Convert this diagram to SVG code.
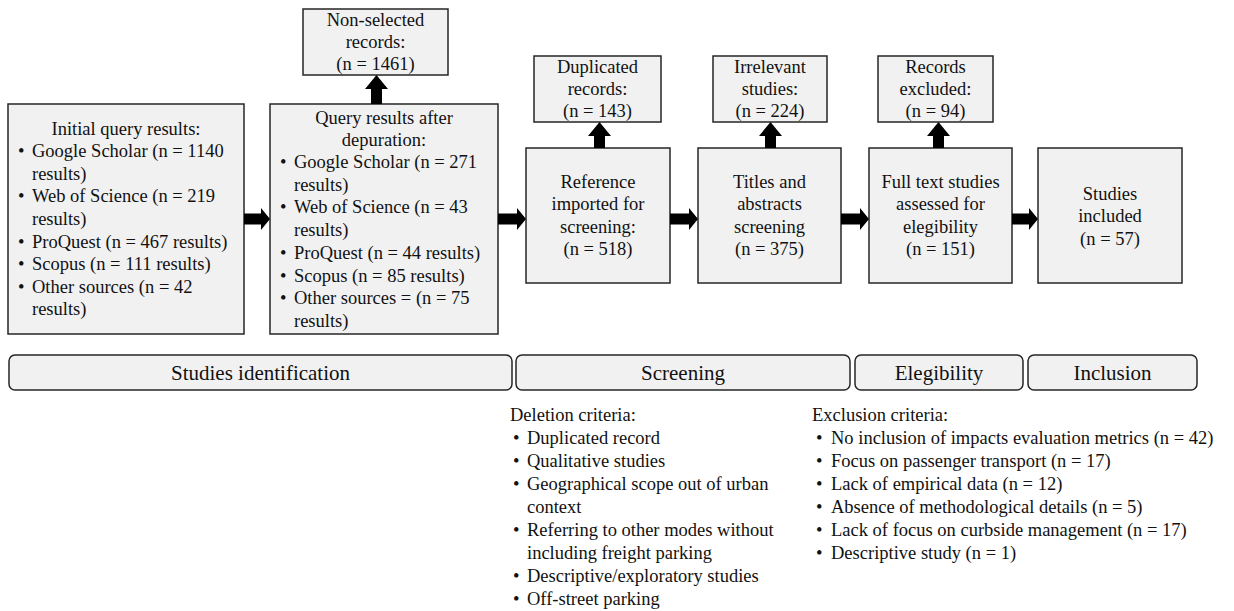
<svg xmlns="http://www.w3.org/2000/svg" width="1234" height="611" viewBox="0 0 1234 611">
<style>
.box{fill:#f1f1f1;stroke:#262626;stroke-width:1.5}
.band{fill:#f1f1f1;stroke:#262626;stroke-width:1.5}
text{font-family:"Liberation Serif","Times New Roman",serif;font-size:18.5px;fill:#111}
.c{text-anchor:middle}
.b{font-size:21px}
.arr{fill:#000}
</style>
<rect width="1234" height="611" fill="#fff"/>
<g id="initial">
<rect class="box" x="8" y="104" width="236" height="230"/>
<text class="c" x="126" y="135">Initial query results:</text>
<text x="18" y="157">•</text><text x="32" y="157">Google Scholar (n = 1140</text>
<text x="32" y="180">results)</text>
<text x="18" y="202">•</text><text x="32" y="202">Web of Science (n = 219</text>
<text x="32" y="225">results)</text>
<text x="18" y="248">•</text><text x="32" y="248">ProQuest (n = 467 results)</text>
<text x="18" y="270">•</text><text x="32" y="270">Scopus (n = 111 results)</text>
<text x="18" y="293">•</text><text x="32" y="293">Other sources (n = 42</text>
<text x="32" y="315">results)</text>
</g>
<g id="depuration">
<rect class="box" x="270" y="104" width="228" height="230"/>
<text class="c" x="384" y="124">Query results after</text>
<text class="c" x="384" y="146">depuration:</text>
<text x="280" y="168">•</text><text x="294" y="168">Google Scholar (n = 271</text>
<text x="294" y="191">results)</text>
<text x="280" y="213">•</text><text x="294" y="213">Web of Science (n = 43</text>
<text x="294" y="236">results)</text>
<text x="280" y="259">•</text><text x="294" y="259">ProQuest (n = 44 results)</text>
<text x="280" y="282">•</text><text x="294" y="282">Scopus (n = 85 results)</text>
<text x="280" y="304">•</text><text x="294" y="304">Other sources = (n = 75</text>
<text x="294" y="327">results)</text>
</g>
<g id="nonselected">
<rect class="box" x="303" y="9" width="145" height="66"/>
<text class="c" x="375.5" y="26">Non-selected</text>
<text class="c" x="375.5" y="48">records:</text>
<text class="c" x="375.5" y="70">(n = 1461)</text>
</g>
<g id="reference">
<rect class="box" x="526" y="148" width="144" height="135"/>
<text class="c" x="598" y="188">Reference</text>
<text class="c" x="598" y="210">imported for</text>
<text class="c" x="598" y="233">screening:</text>
<text class="c" x="598" y="255">(n = 518)</text>
</g>
<g id="duplicated">
<rect class="box" x="534" y="56" width="127" height="66"/>
<text class="c" x="597.5" y="73">Duplicated</text>
<text class="c" x="597.5" y="95">records:</text>
<text class="c" x="597.5" y="117">(n = 143)</text>
</g>
<g id="titles">
<rect class="box" x="698" y="148" width="143" height="135"/>
<text class="c" x="769.5" y="188">Titles and</text>
<text class="c" x="769.5" y="210">abstracts</text>
<text class="c" x="769.5" y="233">screening</text>
<text class="c" x="769.5" y="255">(n = 375)</text>
</g>
<g id="irrelevant">
<rect class="box" x="713" y="56" width="114" height="66"/>
<text class="c" x="770" y="73">Irrelevant</text>
<text class="c" x="770" y="95">studies:</text>
<text class="c" x="770" y="117">(n = 224)</text>
</g>
<g id="fulltext">
<rect class="box" x="869" y="148" width="143" height="135"/>
<text class="c" x="940.5" y="188">Full text studies</text>
<text class="c" x="940.5" y="210">assessed for</text>
<text class="c" x="940.5" y="233">elegibility</text>
<text class="c" x="940.5" y="255">(n = 151)</text>
</g>
<g id="excluded">
<rect class="box" x="878" y="56" width="115" height="66"/>
<text class="c" x="935.5" y="73">Records</text>
<text class="c" x="935.5" y="95">excluded:</text>
<text class="c" x="935.5" y="117">(n = 94)</text>
</g>
<g id="included">
<rect class="box" x="1038" y="148" width="144" height="135"/>
<text class="c" x="1110" y="200">Studies</text>
<text class="c" x="1110" y="222">included</text>
<text class="c" x="1110" y="245">(n = 57)</text>
</g>
<g id="connectors" class="arr">
<polygon points="244,213.5 261,213.5 261,208 270,219 261,230 261,224.5 244,224.5"/>
<polygon points="498,213.5 517,213.5 517,208 526,219 517,230 517,224.5 498,224.5"/>
<polygon points="670,213.5 689,213.5 689,208 698,219 689,230 689,224.5 670,224.5"/>
<polygon points="841,213.5 860,213.5 860,208 869,219 860,230 860,224.5 841,224.5"/>
<polygon points="1012,213.5 1029,213.5 1029,208 1038,219 1029,230 1029,224.5 1012,224.5"/>
<polygon points="371,104 371,89 365,89 376.5,75 388,89 382,89 382,104"/>
<polygon points="594,148 594,136 588,136 599.5,122 611,136 605,136 605,148"/>
<polygon points="765,148 765,136 759,136 770.5,122 782,136 776,136 776,148"/>
<polygon points="933,148 933,136 927,136 938.5,122 950,136 944,136 944,148"/>
</g>
<g id="phases">
<rect class="band" x="9" y="355" width="503" height="35" rx="6"/>
<text class="c b" x="260.5" y="380">Studies identification</text>
<rect class="band" x="516" y="355" width="334" height="35" rx="6"/>
<text class="c b" x="683" y="380">Screening</text>
<rect class="band" x="855" y="355" width="168" height="35" rx="6"/>
<text class="c b" x="939" y="380">Elegibility</text>
<rect class="band" x="1028" y="355" width="169" height="35" rx="6"/>
<text class="c b" x="1112.5" y="380">Inclusion</text>
</g>
<g id="deletion">
<text x="510" y="421">Deletion criteria:</text>
<text x="513" y="444">•</text><text x="527" y="444">Duplicated record</text>
<text x="513" y="467">•</text><text x="527" y="467">Qualitative studies</text>
<text x="513" y="490">•</text><text x="527" y="490">Geographical scope out of urban</text>
<text x="527" y="513">context</text>
<text x="513" y="536">•</text><text x="527" y="536">Referring to other modes without</text>
<text x="527" y="559">including freight parking</text>
<text x="513" y="582">•</text><text x="527" y="582">Descriptive/exploratory studies</text>
<text x="513" y="605">•</text><text x="527" y="605">Off-street parking</text>
</g>
<g id="exclusion">
<text x="812" y="421">Exclusion criteria:</text>
<text x="816" y="444">•</text><text x="831" y="444">No inclusion of impacts evaluation metrics (n = 42)</text>
<text x="816" y="467">•</text><text x="831" y="467">Focus on passenger transport (n = 17)</text>
<text x="816" y="490">•</text><text x="831" y="490">Lack of empirical data (n = 12)</text>
<text x="816" y="513">•</text><text x="831" y="513">Absence of methodological details (n = 5)</text>
<text x="816" y="536">•</text><text x="831" y="536">Lack of focus on curbside management (n = 17)</text>
<text x="816" y="559">•</text><text x="831" y="559">Descriptive study (n = 1)</text>
</g>
</svg>
